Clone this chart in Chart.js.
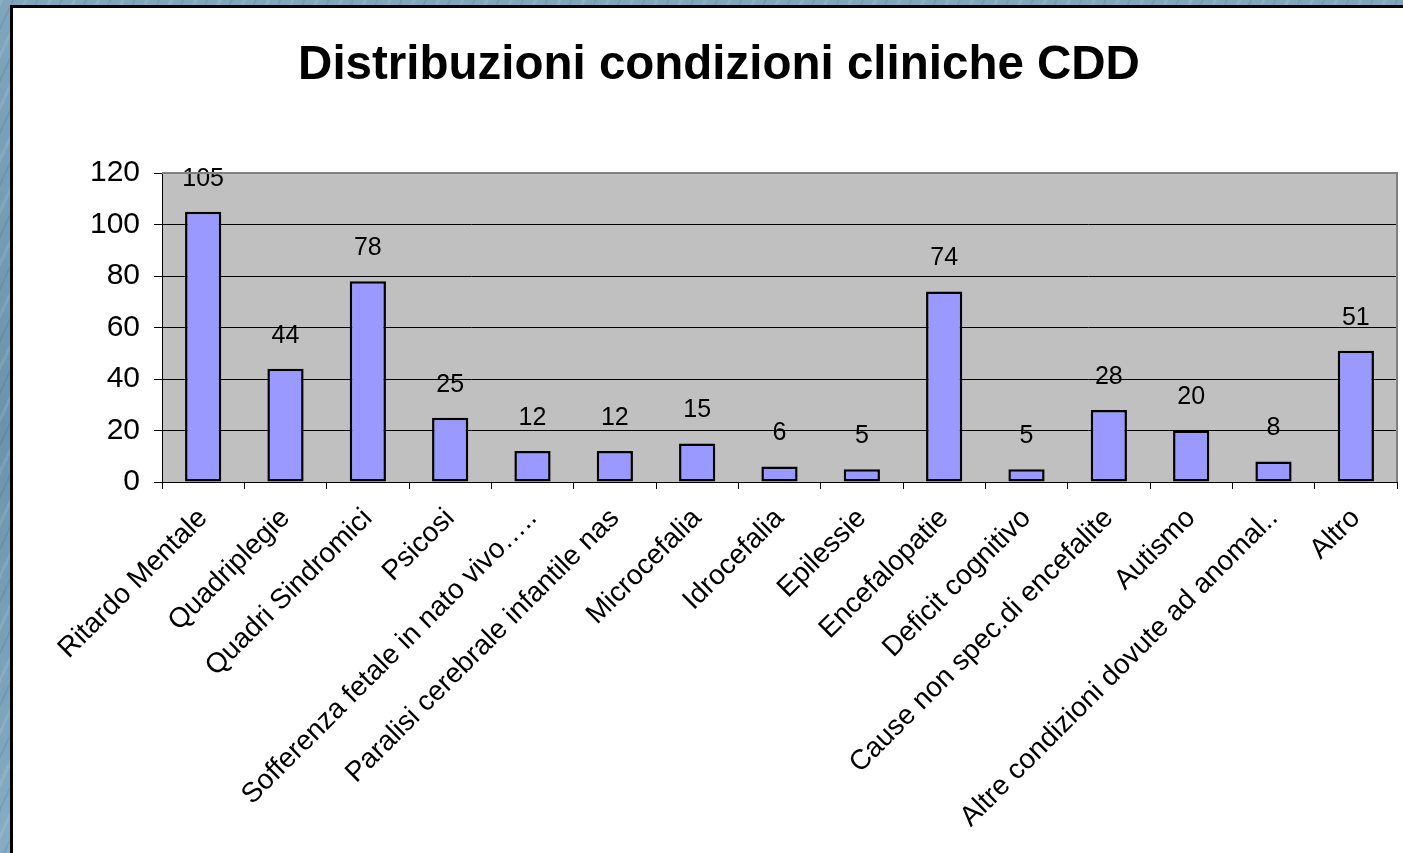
<!DOCTYPE html>
<html>
<head>
<meta charset="utf-8">
<script src="https://cdn.jsdelivr.net/npm/chart.js@4"></script>
<style>
  html, body { margin: 0; padding: 0; }
  body {
    width: 1403px; height: 853px; overflow: hidden; position: relative;
    background:
      repeating-linear-gradient(115deg, rgba(255,255,255,0.10) 0 3px, rgba(0,0,0,0) 3px 11px, rgba(20,60,90,0.10) 11px 13px, rgba(0,0,0,0) 13px 22px),
      linear-gradient(180deg, #7fa6bd, #6b93ad 50%, #86adc3);
  }
  #panel {
    position: absolute; left: 10px; top: 5px; width: 1393px; height: 848px;
    background: #fff; border-left: 3px solid #000; border-top: 3px solid #000;
  }
  #wrap { position: absolute; left: 0; top: 0; width: 1390px; height: 845px; }
</style>
</head>
<body>
<div id="panel"><div id="wrap"><canvas id="cddChart"></canvas></div></div>
<script>
const categories = [
  'Ritardo Mentale', 'Quadriplegie', 'Quadri Sindromici', 'Psicosi',
  'Sofferenza fetale in nato vivo…..', 'Paralisi cerebrale infantile nas',
  'Microcefalia', 'Idrocefalia', 'Epilessie', 'Encefalopatie',
  'Deficit cognitivo', 'Cause non spec.di encefalite', 'Autismo',
  'Altre condizioni dovute ad anomal..', 'Altro'
];
const values = [105, 44, 78, 25, 12, 12, 15, 6, 5, 74, 5, 28, 20, 8, 51];
const yTicks = [0, 20, 40, 60, 80, 100, 120];

const FONT = "'Liberation Sans', Arial, sans-serif";

// sfondo grigio dell'area del grafico + bordo alto/destra
const plotArea = {
  id: 'plotArea',
  beforeDraw(chart) {
    const { ctx, chartArea: a } = chart;
    ctx.save();
    ctx.fillStyle = '#c0c0c0';
    ctx.fillRect(a.left, a.top, a.right - a.left, a.bottom - a.top);
    ctx.restore();
  },
  afterDraw(chart) {
    const { ctx, chartArea: a } = chart;
    ctx.save();
    ctx.strokeStyle = '#808080';
    ctx.lineWidth = 2;
    ctx.beginPath();
    ctx.moveTo(a.left, a.top);
    ctx.lineTo(a.right, a.top);
    ctx.lineTo(a.right, a.bottom);
    ctx.stroke();
    ctx.restore();
  }
};

// etichette dei valori sopra le barre
const valueLabels = {
  id: 'valueLabels',
  afterDatasetsDraw(chart) {
    const { ctx } = chart;
    const meta = chart.getDatasetMeta(0);
    ctx.save();
    ctx.font = '25px ' + FONT;
    ctx.fillStyle = '#000';
    ctx.textAlign = 'center';
    ctx.textBaseline = 'middle';
    meta.data.forEach((bar, i) => {
      ctx.fillText(String(values[i]), bar.x, bar.y - 33);
    });
    ctx.restore();
  }
};

new Chart(document.getElementById('cddChart').getContext('2d'), {
  type: 'bar',
  data: {
    labels: categories,
    datasets: [{
      data: values,
      backgroundColor: '#9999ff',
      borderColor: '#000',
      borderWidth: 2.5,
      borderSkipped: false,
      categoryPercentage: 1,
      barPercentage: 0.44
    }]
  },
  options: {
    responsive: true,
    maintainAspectRatio: false,
    animation: false,
    layout: { padding: { left: 28, right: 6, top: 0, bottom: 0 } },
    plugins: {
      legend: { display: false },
      tooltip: { enabled: false },
      title: {
        display: true,
        text: 'Distribuzioni condizioni cliniche CDD',
        color: '#000',
        font: { size: 47.5, weight: 'bold', family: FONT },
        padding: { top: 29, bottom: 79 }
      }
    },
    scales: {
      x: {
        afterFit: s => { s.height = 371; },
        grid: { display: true, drawOnChartArea: false, drawTicks: true, tickLength: 7, color: '#000', offset: true },
        border: { display: true, color: '#000', width: 1 },
        ticks: {
          color: '#000',
          font: { size: 28, family: FONT },
          minRotation: 45,
          maxRotation: 45,
          autoSkip: false,
          padding: 13
        }
      },
      y: {
        min: 0,
        max: 120,
        afterFit: s => { s.width = 121; },
        afterBuildTicks: s => { s.ticks = yTicks.map(v => ({ value: v })); },
        grid: { color: '#000', lineWidth: 1, tickLength: 8 },
        border: { display: true, color: '#000', width: 1 },
        ticks: {
          color: '#000',
          font: { size: 30, family: FONT },
          padding: 14
        }
      }
    }
  },
  plugins: [plotArea, valueLabels]
});
</script>
</body>
</html>
